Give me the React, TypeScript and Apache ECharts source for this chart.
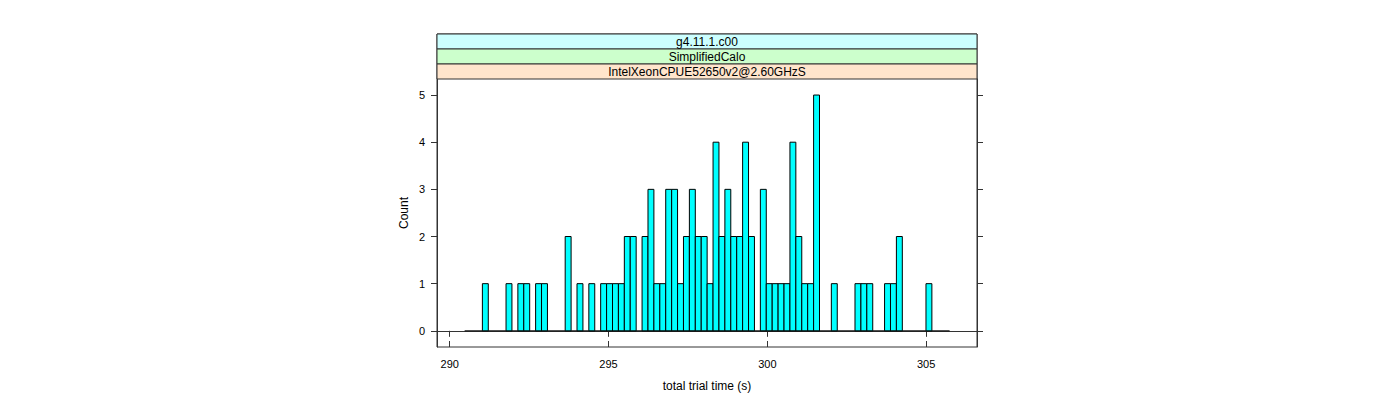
import React, { useEffect, useRef } from "react";
import * as echarts from "echarts";

// Histogram counts per bin (82 equal-width bins)
const counts = [
  0, 0, 0, 1, 0, 0, 0, 1, 0, 1,
  1, 0, 1, 1, 0, 0, 0, 2, 0, 1,
  0, 1, 0, 1, 1, 1, 1, 2, 2, 0,
  2, 3, 1, 1, 3, 3, 1, 2, 3, 2,
  2, 1, 4, 2, 3, 2, 2, 4, 2, 0,
  3, 1, 1, 1, 1, 4, 2, 1, 1, 5,
  0, 0, 1, 0, 0, 0, 1, 1, 1, 0,
  0, 1, 1, 2, 0, 0, 0, 0, 1, 0,
  0, 0,
];
const breakStart = 290.47;
const binWidth = 0.1862;

const xTicks = [290, 295, 300, 305];
const yTicks = [0, 1, 2, 3, 4, 5];
const xRange = [289.6, 306.6];
const yRange = [-0.343, 5.34];

const stripLabels = ["g4.11.1.c00", "SimplifiedCalo", "IntelXeonCPUE52650v2@2.60GHzS"];
const stripColors = ["#CCFFFF", "#CCFFCC", "#FFE5CC"];

const xTitle = "total trial time (s)";
const yTitle = "Count";

const FONT = "'Liberation Sans', Arial, Helvetica, sans-serif";
const AXIS_COLOR = "#333";

export default function App() {
  const ref = useRef<HTMLDivElement>(null);

  useEffect(() => {
    if (!ref.current) return;
    const chart = echarts.init(ref.current, undefined, { renderer: "svg" });

    const barData = counts.map((c, i) => [
      breakStart + i * binWidth,
      breakStart + (i + 1) * binWidth,
      c,
    ]);
    const baseline = [
      [breakStart, 0],
      [breakStart + counts.length * binWidth, 0],
    ];

    const L = 437, R = 977, T = 34, STRIP_H = 15, B = 347;
    const panelTop = T + STRIP_H * stripLabels.length;

    const graphics: any[] = [];
    stripLabels.forEach((lab, k) => {
      const y = T + k * STRIP_H;
      graphics.push({
        type: "rect",
        shape: { x: L, y, width: R - L, height: STRIP_H },
        style: { fill: stripColors[k], stroke: AXIS_COLOR, lineWidth: 1 },
        z: 10,
      });
      graphics.push({
        type: "text",
        x: (L + R) / 2,
        y: y + STRIP_H / 2 + 0.5,
        style: {
          text: lab,
          font: `12px ${FONT}`,
          fill: "#000",
          textAlign: "center",
          textVerticalAlign: "middle",
          align: "center",
          verticalAlign: "middle",
        },
        z: 11,
      });
    });

    const option: any = {
      animation: false,
      backgroundColor: "#fff",
      graphic: graphics,
      grid: [
        { left: L, top: panelTop, width: R - L, height: B - panelTop, show: false },
        { left: L, top: T, width: R - L, height: B - T, show: true, borderColor: AXIS_COLOR, borderWidth: 1, backgroundColor: "transparent" },
      ],
      xAxis: [
        {
          type: "value",
          gridIndex: 0,
          min: xRange[0],
          max: xRange[1],
          position: "bottom",
          name: xTitle,
          nameLocation: "middle",
          nameGap: 33,
          nameTextStyle: { fontFamily: FONT, fontSize: 12, color: "#000" },
          axisLine: { show: true, lineStyle: { color: AXIS_COLOR, width: 1 } },
          axisTick: { show: true, inside: false, length: 6, customValues: xTicks, lineStyle: { color: AXIS_COLOR } },
          axisLabel: { show: true, customValues: xTicks, margin: 11, fontFamily: FONT, fontSize: 11, color: "#000" },
          splitLine: { show: false },
        },
        {
          type: "value",
          gridIndex: 1,
          min: xRange[0],
          max: xRange[1],
          position: "top",
          axisLine: { show: false },
          axisTick: { show: true, inside: false, length: 6, customValues: xTicks, lineStyle: { color: AXIS_COLOR } },
          axisLabel: { show: false },
          splitLine: { show: false },
        },
      ],
      yAxis: [
        {
          type: "value",
          gridIndex: 0,
          min: yRange[0],
          max: yRange[1],
          position: "left",
          name: yTitle,
          nameLocation: "middle",
          nameGap: 27,
          nameRotate: 90,
          nameTextStyle: { fontFamily: FONT, fontSize: 12, color: "#000" },
          axisLine: { show: true, lineStyle: { color: AXIS_COLOR, width: 1 } },
          axisTick: { show: true, inside: false, length: 6, customValues: yTicks, lineStyle: { color: AXIS_COLOR } },
          axisLabel: { show: true, customValues: yTicks, margin: 12, fontFamily: FONT, fontSize: 11, color: "#000" },
          splitLine: { show: false },
        },
        {
          type: "value",
          gridIndex: 0,
          min: yRange[0],
          max: yRange[1],
          position: "right",
          axisLine: { show: true, lineStyle: { color: AXIS_COLOR, width: 1 } },
          axisTick: { show: true, inside: false, length: 6, customValues: yTicks, lineStyle: { color: AXIS_COLOR } },
          axisLabel: { show: false },
          splitLine: { show: false },
        },
        {
          type: "value",
          gridIndex: 1,
          min: 0,
          max: 1,
          show: false,
        },
      ],
      series: [
        {
          type: "line",
          xAxisIndex: 0,
          yAxisIndex: 0,
          data: baseline,
          showSymbol: false,
          symbol: "none",
          lineStyle: { color: "#000", width: 1 },
          silent: true,
          z: 1,
        },
        {
          type: "custom",
          xAxisIndex: 0,
          yAxisIndex: 0,
          data: barData,
          encode: { x: [0, 1], y: 2 },
          renderItem: (params: any, api: any) => {
            const s = api.value(0);
            const e = api.value(1);
            const c = api.value(2);
            if (!c) return null;
            const p0 = api.coord([s, 0]);
            const p1 = api.coord([e, c]);
            return {
              type: "rect",
              shape: { x: p0[0], y: p1[1], width: p1[0] - p0[0], height: p0[1] - p1[1] },
              style: { fill: "#00FFFF", stroke: "#000", lineWidth: 1 },
            };
          },
          z: 2,
        },
      ],
    };

    chart.setOption(option);
    return () => chart.dispose();
  }, []);

  return (
    <div
      ref={ref}
      style={{ position: "fixed", left: 0, top: 0, width: 1400, height: 400, background: "#fff" }}
    />
  );
}
